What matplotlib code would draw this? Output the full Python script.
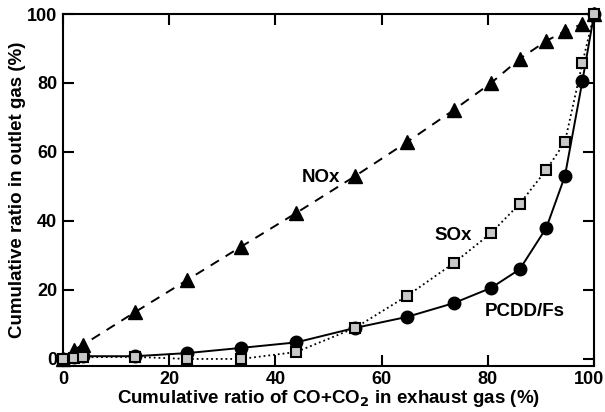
import matplotlib
matplotlib.use("Agg")
import matplotlib.pyplot as plt
from matplotlib.transforms import ScaledTranslation

plt.rcParams['font.family'] = ['Liberation Sans', 'DejaVu Sans']
plt.rcParams['font.weight'] = 'bold'

# cumulative CO+CO2 share (%), shared by all three series
co_share = [0, 2, 3.8, 13.6, 23.4, 33.5, 43.9, 55, 64.8, 73.6, 80.6, 86, 91, 94.5, 97.8, 100]

nox = [0, 2.6, 4.1, 13.6, 22.9, 32.5, 42.3, 53, 62.9, 72.2, 80, 87, 92.2, 95, 97.1, 100]
sox = [0, 0.3, 0.5, 0.6, 0, 0, 2, 9, 18.3, 27.8, 36.5, 45, 54.8, 62.9, 85.8, 100]
pcdd = [0, 0.7, 0.8, 0.8, 1.7, 3.2, 4.8, 9, 12.2, 16.2, 20.6, 26, 38, 53, 80.6, 100]

fig = plt.figure(figsize=(6.05, 4.12), dpi=100)
ax = fig.add_axes([0.104, 0.112, 0.878, 0.854])

ax.plot(co_share, nox, color='black', linestyle=(0, (5, 4)), linewidth=1.4,
        marker='^', markersize=9.5, clip_on=False, zorder=3)
ax.plot(co_share, sox, color='black', linestyle=':', linewidth=1.3,
        marker='s', markersize=6.5, markerfacecolor='#c8c8c8', markeredgecolor='black',
        markeredgewidth=1.5, clip_on=False, zorder=4)
ax.plot(co_share, pcdd, color='black', linestyle='-', linewidth=1.4,
        marker='o', markersize=9, clip_on=False, zorder=3)

ax.text(48.6, 52.5, 'NOx', fontsize=13.5, fontweight='bold', ha='center', va='center')
ax.text(73.4, 35.7, 'SOx', fontsize=13.5, fontweight='bold', ha='center', va='center')
ax.text(87, 13.9, 'PCDD/Fs', fontsize=13.5, fontweight='bold', ha='center', va='center')

ax.set_xlim(0, 100)
ax.set_ylim(-2, 100)
ax.set_xticks([0, 20, 40, 60, 80, 100])
ax.set_yticks([0, 20, 40, 60, 80, 100])
ax.tick_params(direction='in', length=8, width=1.5, top=True, right=True,
               labelsize=13, pad=4)
for lbl in ax.get_xticklabels() + ax.get_yticklabels():
    lbl.set_fontweight('bold')
# nudge the last x label so it stays inside the figure
last = ax.get_xticklabels()[-1]
last.set_transform(last.get_transform() + ScaledTranslation(-4 / 72, 0, fig.dpi_scale_trans))
for sp in ax.spines.values():
    sp.set_linewidth(1.5)

ax.set_xlabel('Cumulative ratio of CO+CO$_\\mathbf{2}$ in exhaust gas (%)',
              fontsize=13.5, fontweight='bold', labelpad=0)
ax.set_ylabel('Cumulative ratio in outlet gas (%)', fontsize=13.5, fontweight='bold', labelpad=1)

fig.savefig('out.png', dpi=100)
